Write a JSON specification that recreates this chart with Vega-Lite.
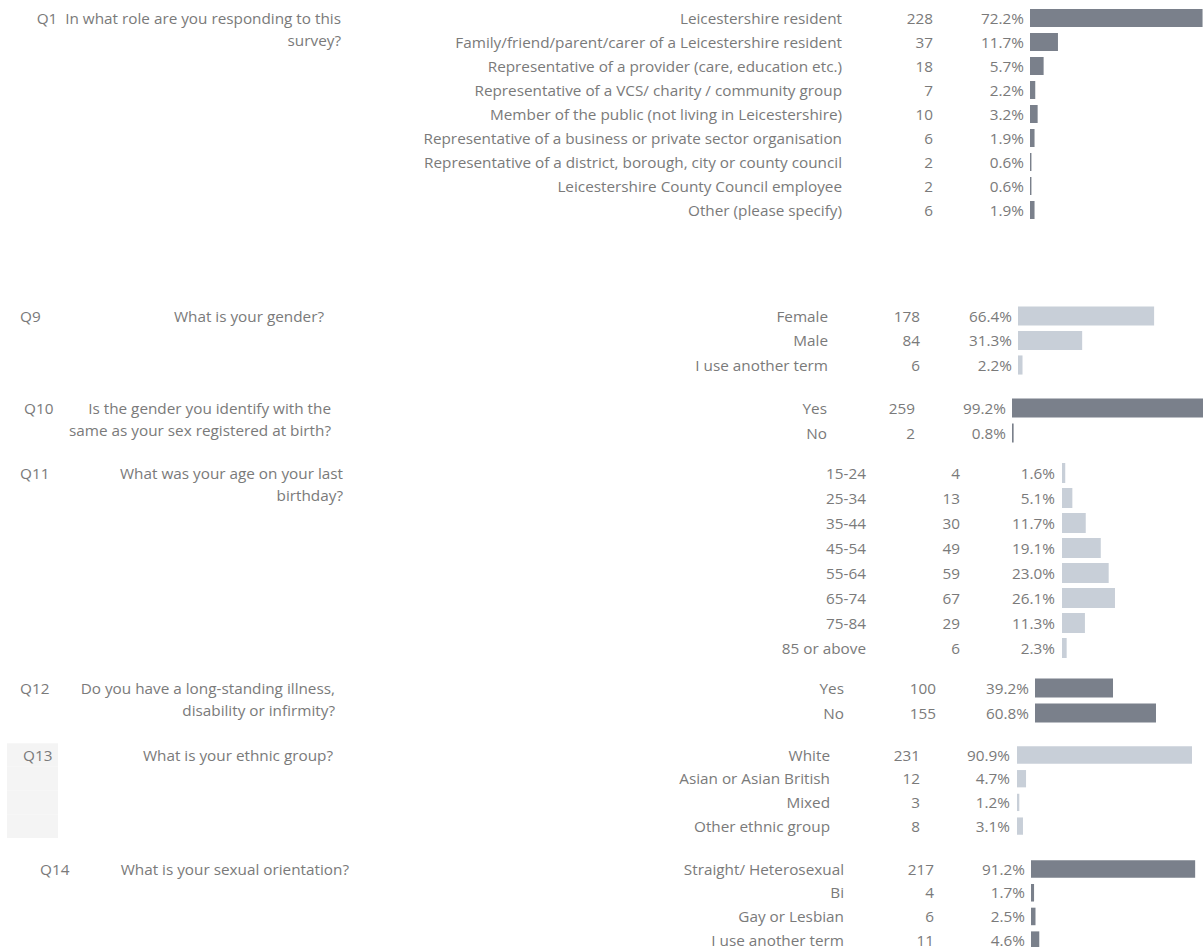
{
  "$schema": "https://vega.github.io/schema/vega-lite/v6.json",
  "padding": 0,
  "autosize": {"type": "pad"},
  "spacing": 0,
  "bounds": "flush",
  "background": "white",
  "config": {
    "view": {"stroke": null},
    "text": {"font": "Open Sans", "fontSize": 15.3, "fill": "#7a7a7a", "baseline": "alphabetic", "dy": 5.5},
    "concat": {"spacing": 0}
  },
  "datasets": {
    "rows": [
      {"q": "Q1", "cat": "Leicestershire resident", "n": 228, "pct": 0.722, "qtext": "Q1\u00a0 In what role are you responding to this\nsurvey?"},
      {"q": "Q1", "cat": "Family/friend/parent/carer of a Leicestershire resident", "n": 37, "pct": 0.117},
      {"q": "Q1", "cat": "Representative of a provider (care, education etc.)", "n": 18, "pct": 0.057},
      {"q": "Q1", "cat": "Representative of a VCS/ charity / community group", "n": 7, "pct": 0.022},
      {"q": "Q1", "cat": "Member of the public (not living in Leicestershire)", "n": 10, "pct": 0.032},
      {"q": "Q1", "cat": "Representative of a business or private sector organisation", "n": 6, "pct": 0.019},
      {"q": "Q1", "cat": "Representative of a district, borough, city or county council", "n": 2, "pct": 0.006},
      {"q": "Q1", "cat": "Leicestershire County Council employee", "n": 2, "pct": 0.006},
      {"q": "Q1", "cat": "Other (please specify)", "n": 6, "pct": 0.019},
      {"q": "Q9", "cat": "Female", "n": 178, "pct": 0.664, "qid": "Q9", "qtext": "What is your gender?"},
      {"q": "Q9", "cat": "Male", "n": 84, "pct": 0.313},
      {"q": "Q9", "cat": "I use another term", "n": 6, "pct": 0.022},
      {"q": "Q10", "cat": "Yes", "n": 259, "pct": 0.992, "qid": "Q10", "qtext": "Is the gender you identify with the\nsame as your sex registered at birth?"},
      {"q": "Q10", "cat": "No", "n": 2, "pct": 0.008},
      {"q": "Q11", "cat": "15-24", "n": 4, "pct": 0.016, "qid": "Q11", "qtext": "What was your age on your last\nbirthday?"},
      {"q": "Q11", "cat": "25-34", "n": 13, "pct": 0.051},
      {"q": "Q11", "cat": "35-44", "n": 30, "pct": 0.117},
      {"q": "Q11", "cat": "45-54", "n": 49, "pct": 0.191},
      {"q": "Q11", "cat": "55-64", "n": 59, "pct": 0.230},
      {"q": "Q11", "cat": "65-74", "n": 67, "pct": 0.261},
      {"q": "Q11", "cat": "75-84", "n": 29, "pct": 0.113},
      {"q": "Q11", "cat": "85 or above", "n": 6, "pct": 0.023},
      {"q": "Q12", "cat": "Yes", "n": 100, "pct": 0.392, "qid": "Q12", "qtext": "Do you have a long-standing illness,\ndisability or infirmity?"},
      {"q": "Q12", "cat": "No", "n": 155, "pct": 0.608},
      {"q": "Q13", "cat": "White", "n": 231, "pct": 0.909, "qid": "Q13", "qtext": "What is your ethnic group?"},
      {"q": "Q13", "cat": "Asian or Asian British", "n": 12, "pct": 0.047},
      {"q": "Q13", "cat": "Mixed", "n": 3, "pct": 0.012},
      {"q": "Q13", "cat": "Other ethnic group", "n": 8, "pct": 0.031},
      {"q": "Q14", "cat": "Straight/ Heterosexual", "n": 217, "pct": 0.912, "qid": "Q14", "qtext": "What is your sexual orientation?"},
      {"q": "Q14", "cat": "Bi", "n": 4, "pct": 0.017},
      {"q": "Q14", "cat": "Gay or Lesbian", "n": 6, "pct": 0.025},
      {"q": "Q14", "cat": "I use another term", "n": 11, "pct": 0.046}
    ]
  },
  "data": {"name": "rows"},
  "vconcat": [
    {
      "width": 1203, "height": 300,
      "transform": [{"filter": "datum.q == 'Q1'"}],
      "encoding": {"y": {"field": "cat", "type": "nominal", "sort": null, "axis": null, "scale": {"range": [6, 222], "paddingInner": 0.25, "paddingOuter": 0.125}}},
      "layer": [
        {"mark": {"type": "bar", "color": "#7a808b", "clip": true}, "encoding": {"x": {"field": "pct", "type": "quantitative", "axis": null, "scale": {"domain": [0, 1], "range": [1030, 1269]}}}},
        {"mark": {"type": "text", "align": "right", "x": 842}, "encoding": {"text": {"field": "cat"}}},
        {"mark": {"type": "text", "align": "right", "x": 933}, "encoding": {"text": {"field": "n", "type": "quantitative"}}},
        {"mark": {"type": "text", "align": "right", "x": 1024}, "encoding": {"text": {"field": "pct", "type": "quantitative", "format": ".1%"}}},
        {"transform": [{"filter": "isValid(datum.qtext)"}], "mark": {"type": "text", "align": "right", "x": 341, "lineBreak": "\n", "lineHeight": 22}, "encoding": {"text": {"field": "qtext"}}}
      ]
    },
    {
      "width": 1203, "height": 95,
      "transform": [{"filter": "datum.q == 'Q9'"}],
      "encoding": {"y": {"field": "cat", "type": "nominal", "sort": null, "axis": null, "scale": {"range": [3.75, 77.25], "paddingInner": 0.22, "paddingOuter": 0.11}}},
      "layer": [
        {"mark": {"type": "bar", "color": "#c8cfd8", "clip": true}, "encoding": {"x": {"field": "pct", "type": "quantitative", "axis": null, "scale": {"domain": [0, 1], "range": [1018, 1223]}}}},
        {"mark": {"type": "text", "align": "right", "x": 828}, "encoding": {"text": {"field": "cat"}}},
        {"mark": {"type": "text", "align": "right", "x": 920}, "encoding": {"text": {"field": "n", "type": "quantitative"}}},
        {"mark": {"type": "text", "align": "right", "x": 1012}, "encoding": {"text": {"field": "pct", "type": "quantitative", "format": ".1%"}}},
        {"transform": [{"filter": "isValid(datum.qtext)"}], "mark": {"type": "text", "align": "right", "x": 324, "lineBreak": "\n", "lineHeight": 22}, "encoding": {"text": {"field": "qtext"}}},
        {"transform": [{"filter": "isValid(datum.qid)"}], "mark": {"type": "text", "align": "left", "x": 20}, "encoding": {"text": {"field": "qid"}}}
      ]
    },
    {
      "width": 1203, "height": 65,
      "transform": [{"filter": "datum.q == 'Q10'"}],
      "encoding": {"y": {"field": "cat", "type": "nominal", "sort": null, "axis": null, "scale": {"range": [0.5, 50.5], "paddingInner": 0.24, "paddingOuter": 0.12}}},
      "layer": [
        {"mark": {"type": "bar", "color": "#7a808b", "clip": true}, "encoding": {"x": {"field": "pct", "type": "quantitative", "axis": null, "scale": {"domain": [0, 1], "range": [1012, 1217]}}}},
        {"mark": {"type": "text", "align": "right", "x": 827}, "encoding": {"text": {"field": "cat"}}},
        {"mark": {"type": "text", "align": "right", "x": 915}, "encoding": {"text": {"field": "n", "type": "quantitative"}}},
        {"mark": {"type": "text", "align": "right", "x": 1006}, "encoding": {"text": {"field": "pct", "type": "quantitative", "format": ".1%"}}},
        {"transform": [{"filter": "isValid(datum.qtext)"}], "mark": {"type": "text", "align": "right", "x": 331, "lineBreak": "\n", "lineHeight": 22}, "encoding": {"text": {"field": "qtext"}}},
        {"transform": [{"filter": "isValid(datum.qid)"}], "mark": {"type": "text", "align": "left", "x": 24}, "encoding": {"text": {"field": "qid"}}}
      ]
    },
    {
      "width": 1203, "height": 215,
      "transform": [{"filter": "datum.q == 'Q11'"}],
      "encoding": {"y": {"field": "cat", "type": "nominal", "sort": null, "axis": null, "scale": {"range": [0.5, 200.5], "paddingInner": 0.2, "paddingOuter": 0.1}}},
      "layer": [
        {"mark": {"type": "bar", "color": "#c8cfd8", "clip": true}, "encoding": {"x": {"field": "pct", "type": "quantitative", "axis": null, "scale": {"domain": [0, 1], "range": [1062, 1265]}}}},
        {"mark": {"type": "text", "align": "right", "x": 866}, "encoding": {"text": {"field": "cat"}}},
        {"mark": {"type": "text", "align": "right", "x": 960}, "encoding": {"text": {"field": "n", "type": "quantitative"}}},
        {"mark": {"type": "text", "align": "right", "x": 1055}, "encoding": {"text": {"field": "pct", "type": "quantitative", "format": ".1%"}}},
        {"transform": [{"filter": "isValid(datum.qtext)"}], "mark": {"type": "text", "align": "right", "x": 343, "lineBreak": "\n", "lineHeight": 22}, "encoding": {"text": {"field": "qtext"}}},
        {"transform": [{"filter": "isValid(datum.qid)"}], "mark": {"type": "text", "align": "left", "x": 20}, "encoding": {"text": {"field": "qid"}}}
      ]
    },
    {
      "width": 1203, "height": 67,
      "transform": [{"filter": "datum.q == 'Q12'"}],
      "encoding": {"y": {"field": "cat", "type": "nominal", "sort": null, "axis": null, "scale": {"range": [0.5, 50.5], "paddingInner": 0.24, "paddingOuter": 0.12}}},
      "layer": [
        {"mark": {"type": "bar", "color": "#7a808b", "clip": true}, "encoding": {"x": {"field": "pct", "type": "quantitative", "axis": null, "scale": {"domain": [0, 1], "range": [1035, 1234]}}}},
        {"mark": {"type": "text", "align": "right", "x": 844}, "encoding": {"text": {"field": "cat"}}},
        {"mark": {"type": "text", "align": "right", "x": 936}, "encoding": {"text": {"field": "n", "type": "quantitative"}}},
        {"mark": {"type": "text", "align": "right", "x": 1029}, "encoding": {"text": {"field": "pct", "type": "quantitative", "format": ".1%"}}},
        {"transform": [{"filter": "isValid(datum.qtext)"}], "mark": {"type": "text", "align": "right", "x": 335, "lineBreak": "\n", "lineHeight": 22}, "encoding": {"text": {"field": "qtext"}}},
        {"transform": [{"filter": "isValid(datum.qid)"}], "mark": {"type": "text", "align": "left", "x": 20}, "encoding": {"text": {"field": "qid"}}}
      ]
    },
    {
      "width": 1203, "height": 113,
      "transform": [{"filter": "datum.q == 'Q13'"}],
      "encoding": {"y": {"field": "cat", "type": "nominal", "sort": null, "axis": null, "scale": {"range": [1.15, 95.95], "paddingInner": 0.27, "paddingOuter": 0.135}}},
      "layer": [
        {"mark": {"type": "bar", "color": "#f4f4f4", "x": 7, "x2": 58, "height": {"band": 1.37}}, "encoding": {}},
        {"mark": {"type": "bar", "color": "#c8cfd8", "clip": true}, "encoding": {"x": {"field": "pct", "type": "quantitative", "axis": null, "scale": {"domain": [0, 1], "range": [1017, 1209.5]}}}},
        {"mark": {"type": "text", "align": "right", "x": 830}, "encoding": {"text": {"field": "cat"}}},
        {"mark": {"type": "text", "align": "right", "x": 920}, "encoding": {"text": {"field": "n", "type": "quantitative"}}},
        {"mark": {"type": "text", "align": "right", "x": 1010}, "encoding": {"text": {"field": "pct", "type": "quantitative", "format": ".1%"}}},
        {"transform": [{"filter": "isValid(datum.qtext)"}], "mark": {"type": "text", "align": "right", "x": 333, "lineBreak": "\n", "lineHeight": 22}, "encoding": {"text": {"field": "qtext"}}},
        {"transform": [{"filter": "isValid(datum.qid)"}], "mark": {"type": "text", "align": "left", "x": 23}, "encoding": {"text": {"field": "qid"}}}
      ]
    },
    {
      "width": 1203, "height": 92,
      "transform": [{"filter": "datum.q == 'Q14'"}],
      "encoding": {"y": {"field": "cat", "type": "nominal", "sort": null, "axis": null, "scale": {"range": [2.2, 97], "paddingInner": 0.26, "paddingOuter": 0.13}}},
      "layer": [
        {"mark": {"type": "bar", "color": "#7a808b", "clip": true}, "encoding": {"x": {"field": "pct", "type": "quantitative", "axis": null, "scale": {"domain": [0, 1], "range": [1031, 1211]}}}},
        {"mark": {"type": "text", "align": "right", "x": 844}, "encoding": {"text": {"field": "cat"}}},
        {"mark": {"type": "text", "align": "right", "x": 934}, "encoding": {"text": {"field": "n", "type": "quantitative"}}},
        {"mark": {"type": "text", "align": "right", "x": 1025}, "encoding": {"text": {"field": "pct", "type": "quantitative", "format": ".1%"}}},
        {"transform": [{"filter": "isValid(datum.qtext)"}], "mark": {"type": "text", "align": "right", "x": 349, "lineBreak": "\n", "lineHeight": 22}, "encoding": {"text": {"field": "qtext"}}},
        {"transform": [{"filter": "isValid(datum.qid)"}], "mark": {"type": "text", "align": "left", "x": 40}, "encoding": {"text": {"field": "qid"}}}
      ]
    }
  ]
}
